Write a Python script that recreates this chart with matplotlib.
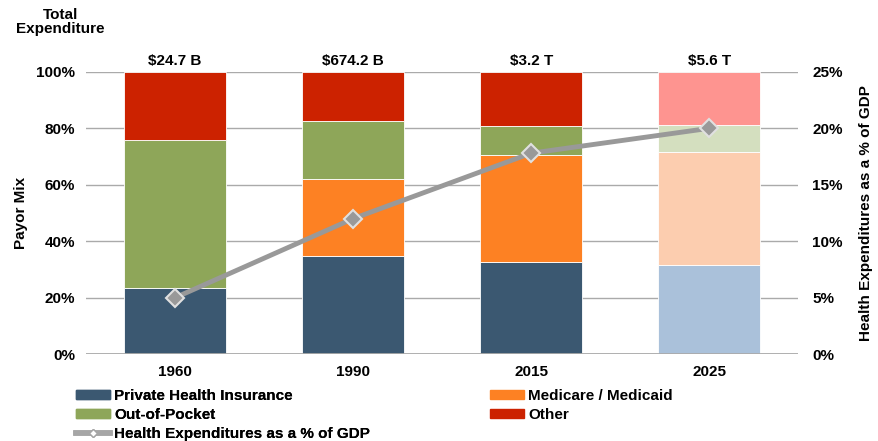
import numpy as np
import matplotlib.pyplot as plt
from matplotlib.lines import Line2D
from matplotlib.patches import Patch

plt.rcParams['font.family'] = ['Liberation Sans', 'DejaVu Sans']
plt.rcParams['font.weight'] = 'bold'
plt.rcParams['axes.labelweight'] = 'bold'

years = ['1960', '1990', '2015', '2025']
totals = ['$24.7 B', '$674.2 B', '$3.2 T', '$5.6 T']
private = [23.4, 34.8, 32.6, 31.6]
medicare = [0.0, 27.3, 38.0, 40.0]
oop = [52.5, 20.5, 10.3, 9.6]
other = [24.1, 17.4, 19.1, 18.8]
gdp_pct = [5.0, 12.0, 17.8, 20.0]

cols = {
    'Private Health Insurance': ('#3b5871', '#aac1da'),
    'Medicare / Medicaid': ('#fd8123', '#fccdaf'),
    'Out-of-Pocket': ('#8ea659', '#d4dfbf'),
    'Other': ('#cc2200', '#fe9490'),
}
series = [private, medicare, oop, other]
fs = 11

fig = plt.figure(figsize=(8.79, 4.41), dpi=100)
ax = fig.add_axes([0.098, 0.197, 0.81, 0.64])
x = np.arange(len(years))
bottom = np.zeros(len(years))
for (name, (c, light)), vals in zip(cols.items(), series):
    colors = [c] * 3 + [light]
    ax.bar(x, vals, 0.575, bottom=bottom, color=colors, edgecolor='white', linewidth=0.6, zorder=2)
    bottom += np.array(vals)

ax.set_xlim(-0.5, 3.5)
ax.set_ylim(0, 100)
ax.set_yticks(range(0, 101, 20))
ax.set_yticklabels([f'{v}%' for v in range(0, 101, 20)], fontsize=fs)
ax.set_xticks(x)
ax.set_xticklabels(years, fontsize=fs)
ax.tick_params(length=0, pad=8)
ax.grid(axis='y', color='#aaaaaa', linewidth=1, zorder=0)
for s in ax.spines.values():
    s.set_visible(False)
ax.axhline(0, color='#aaaaaa', linewidth=2, zorder=3)
ax.set_ylabel('Payor Mix', fontsize=fs, labelpad=6)
for xi, t in zip(x, totals):
    ax.text(xi, 101.5, t, ha='center', va='bottom', fontsize=fs)
fig.text(0.069, 0.95, 'Total\nExpenditure', ha='center', va='center', fontsize=fs, linespacing=1.0)

ax2 = ax.twinx()
ax2.set_ylim(0, 25)
ax2.set_yticks(range(0, 26, 5))
ax2.set_yticklabels([f'{v}%' for v in range(0, 26, 5)], fontsize=fs)
ax2.tick_params(length=0, pad=10)
for s in ax2.spines.values():
    s.set_visible(False)
ax2.plot(x, gdp_pct, color='#999999', linewidth=3.5, marker='D', markersize=9,
         markerfacecolor='#999999', markeredgecolor='#e0e0e0', markeredgewidth=1.5, zorder=5)
ax2.set_ylabel('Health Expenditures as a % of GDP', fontsize=fs, labelpad=12)

handles = [Patch(color=c) for c, _ in cols.values()]
names = list(cols.keys())
common = dict(loc='upper left', frameon=False, fontsize=fs, handlelength=2.2, handleheight=0.55,
              labelspacing=0.32, handletextpad=0.25, borderpad=0, borderaxespad=0)
h1 = [handles[0], handles[2], Line2D([], [], color='#a6a6a6', lw=4, marker='D', markersize=4,
                                     markerfacecolor='white', markeredgecolor='#a6a6a6')]
l1 = [names[0], names[2], 'Health Expenditures as a % of GDP']
leg1 = fig.legend(h1, l1, bbox_to_anchor=(0.087, 0.118), **common)
leg2 = fig.legend([handles[1], handles[3]], [names[1], names[3]],
                  bbox_to_anchor=(0.558, 0.118), **common)
fig.add_artist(leg1)

fig.savefig('out.png', dpi=100)
